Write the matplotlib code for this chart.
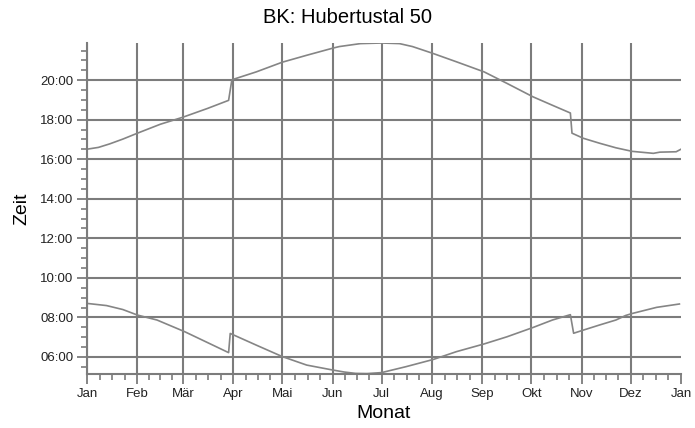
import matplotlib
matplotlib.use('Agg')
import matplotlib.pyplot as plt
import numpy as np
from matplotlib.ticker import FixedLocator, FuncFormatter, MultipleLocator

plt.rcParams['font.family'] = ['Liberation Sans', 'DejaVu Sans']

TITLE = 'BK: Hubertustal 50'
MONTHS = ['Jan', 'Feb', 'Mär', 'Apr', 'Mai', 'Jun', 'Jul',
          'Aug', 'Sep', 'Okt', 'Nov', 'Dez', 'Jan']
MONTH_START = [0, 31, 59, 90, 120, 151, 181, 212, 243, 273, 304, 334, 365]

# day of year (0 = 1 Jan) and time in hours
sunset_days = [0, 7, 14, 22, 31, 45, 59, 74, 87, 89, 104, 120, 135, 151, 155,
               168, 181, 192, 200, 212, 227, 244, 258, 274, 286, 297, 298,
               305, 315, 325, 335, 348, 352, 362, 365]
sunset_hours = [16.51, 16.60, 16.78, 17.02, 17.32, 17.77, 18.13, 18.57, 18.98,
                20.02, 20.42, 20.91, 21.26, 21.62, 21.70, 21.85, 21.88, 21.85,
                21.70, 21.37, 20.93, 20.42, 19.84, 19.16, 18.73, 18.34, 17.32,
                17.06, 16.81, 16.58, 16.40, 16.30, 16.36, 16.38, 16.51]

sunrise_days = [0, 12, 22, 31, 43, 60, 73, 87, 88, 104, 120, 135, 151, 158,
                165, 172, 181, 196, 213, 227, 244, 258, 274, 286, 297, 299,
                305, 315, 325, 331, 335, 350, 364]
sunrise_hours = [8.71, 8.60, 8.40, 8.12, 7.87, 7.28, 6.77, 6.22, 7.19, 6.60,
                 6.02, 5.59, 5.34, 5.24, 5.17, 5.16, 5.21, 5.51, 5.88, 6.27,
                 6.66, 7.02, 7.49, 7.87, 8.14, 7.20, 7.36, 7.62, 7.87, 8.10,
                 8.20, 8.51, 8.68]

GREY = '#7c7c7c'

fig = plt.figure(figsize=(6.95, 4.28), dpi=100)
ax = fig.add_axes([0.1252, 0.1262, 0.8547, 0.7733])

ax.plot(sunset_days, sunset_hours, '-', color='#858585', linewidth=1.2)
ax.plot(sunrise_days, sunrise_hours, '-', color='#858585', linewidth=1.2)

ax.set_xlim(0, 365)
ax.set_ylim(5.14, 21.88)

# x: month starts, 3 minor ticks per month
minor_x = []
for a, b in zip(MONTH_START[:-1], MONTH_START[1:]):
    minor_x += [a + k * (b - a) / 4.0 for k in (1, 2, 3)]
ax.xaxis.set_major_locator(FixedLocator(MONTH_START))
ax.xaxis.set_minor_locator(FixedLocator(minor_x))
ax.set_xticklabels(MONTHS)

ax.yaxis.set_major_locator(FixedLocator(np.arange(6, 21, 2)))
ax.yaxis.set_minor_locator(MultipleLocator(0.5))
ax.yaxis.set_major_formatter(FuncFormatter(lambda v, p: '%02d:00' % v))

ax.grid(True, which='major', color=GREY, linewidth=1.5)
ax.set_axisbelow(True)
# no gridline on the right edge
ax.xaxis.get_gridlines()[-1].set_visible(False)

for side in ('top', 'right'):
    ax.spines[side].set_visible(False)
for side in ('left', 'bottom'):
    ax.spines[side].set_color(GREY)
    ax.spines[side].set_linewidth(1.5)

ax.tick_params(which='major', length=7, width=1.3, color=GREY,
               labelsize=9.5, labelcolor='#222222', pad=3)
ax.tick_params(which='minor', length=4.5, width=1.2, color=GREY)

# title is centred on the figure, not on the axes
fig.text(0.5, 0.958, TITLE, fontsize=14.5, ha='center', va='center')
ax.set_xlabel('Monat', fontsize=14, labelpad=4)
ax.set_ylabel('Zeit', fontsize=14, labelpad=7)

fig.savefig('out.png', dpi=100)
